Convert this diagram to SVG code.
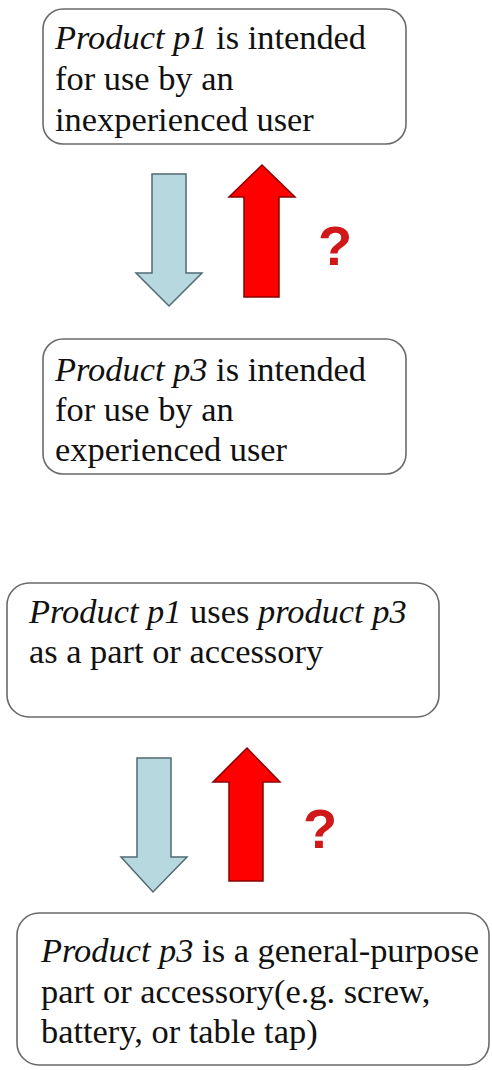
<svg xmlns="http://www.w3.org/2000/svg" width="492" height="1070" viewBox="0 0 492 1070">
<style>
.box{fill:#ffffff;stroke:#6a6a6a;stroke-width:1.6}
.t{font-size:34.4px;fill:#111111}
.i{font-style:italic}
.down{fill:#b8d8df;stroke:#4f6b72;stroke-width:1.5;stroke-linejoin:miter}
.up{fill:#ff0000;stroke:#8a0000;stroke-width:1.5;stroke-linejoin:miter}
.q{font-family:'Liberation Sans',Arial,sans-serif;font-weight:bold;font-size:56px;fill:#d01818}
</style>
<rect width="492" height="1070" fill="#ffffff"/>
<g id="node1" font-family="Times New Roman, Liberation Serif, Tinos, serif">
<rect class="box" x="43" y="9" width="363" height="135" rx="20"/>
<text class="t" x="55" y="49"><tspan class="i">Product p1</tspan> is intended</text>
<text class="t" x="55" y="90">for use by an</text>
<text class="t" x="55" y="131">inexperienced user</text>
</g>
<g id="node2" font-family="Times New Roman, Liberation Serif, Tinos, serif">
<rect class="box" x="43" y="339" width="363" height="135" rx="20"/>
<text class="t" x="55" y="381"><tspan class="i">Product p3</tspan> is intended</text>
<text class="t" x="55" y="421">for use by an</text>
<text class="t" x="55" y="461">experienced user</text>
</g>
<g id="node3" font-family="Times New Roman, Liberation Serif, Tinos, serif">
<rect class="box" x="7" y="583" width="432" height="134" rx="22"/>
<text class="t" x="29" y="623"><tspan class="i">Product p1</tspan> uses <tspan class="i">product p3</tspan></text>
<text class="t" x="29" y="663">as a part or accessory</text>
</g>
<g id="node4" font-family="Times New Roman, Liberation Serif, Tinos, serif">
<rect class="box" x="17" y="913" width="472" height="152" rx="22"/>
<text class="t" x="41" y="962"><tspan class="i">Product p3</tspan> is a general-purpose</text>
<text class="t" x="41" y="1003">part or accessory(e.g. screw,</text>
<text class="t" x="41" y="1043">battery, or table tap)</text>
</g>
<g id="connectors">
<polygon class="down" points="152,174 186,174 186,273 202,273 169,306 136,273 152,273"/>
<polygon class="up" points="262,165 295,197 279,197 279,297 244,297 244,197 229,197"/>
<text class="q" x="335" y="265" text-anchor="middle">?</text>
<polygon class="down" points="137,758 171,758 171,857 187,857 153,892 121,857 137,857"/>
<polygon class="up" points="247,748 280,782 263,782 263,881 229,881 229,782 213,782"/>
<text class="q" x="320" y="848" text-anchor="middle">?</text>
</g>
</svg>
